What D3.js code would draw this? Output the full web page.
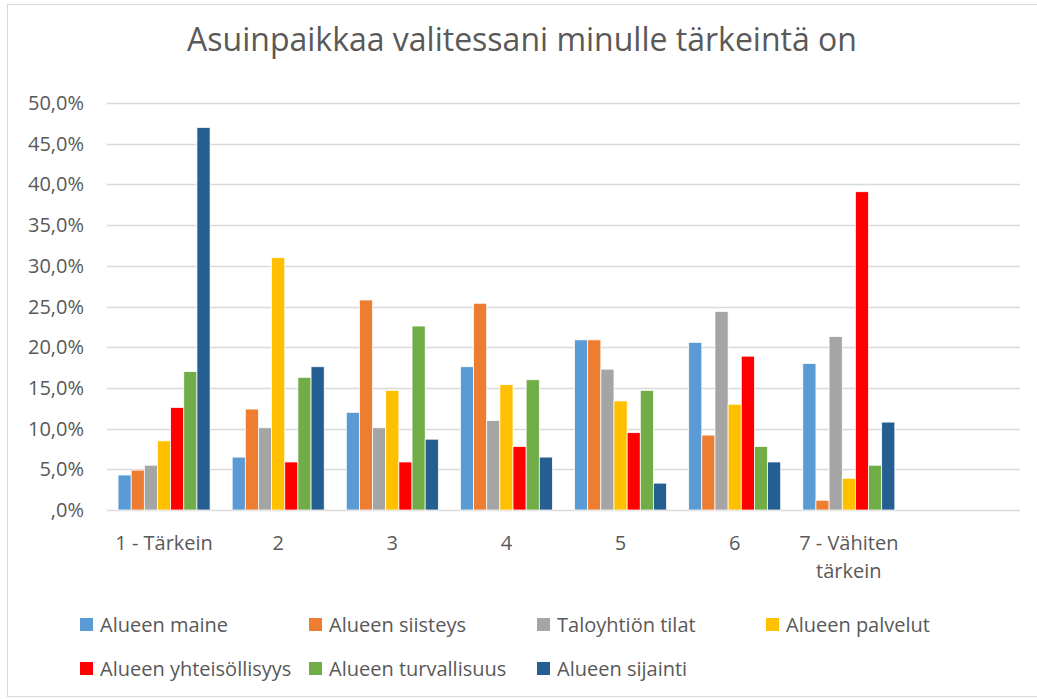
<!DOCTYPE html>
<html>
<head>
<meta charset="utf-8">
<script src="https://cdn.jsdelivr.net/npm/d3@7"></script>
<style>
  body { margin: 0; background: #fff; }
  svg { display: block; font-family: "Open Sans", sans-serif; }
</style>
</head>
<body>
<svg></svg>
<script>
const width = 1037;
const height = 699;

// data (percent)
const categories = ["1 - Tärkein", "2", "3", "4", "5", "6", "7 - Vähiten tärkein", ""];
const seriesNames = ["Alueen maine", "Alueen siisteys", "Taloyhtiön tilat", "Alueen palvelut",
    "Alueen yhteisöllisyys", "Alueen turvallisuus", "Alueen sijainti"];
const maine = [4.3, 6.5, 12.0, 17.6, 20.9, 20.6, 18.0];
const siisteys = [4.9, 12.4, 25.8, 25.4, 20.9, 9.2, 1.2];
const tilat = [5.5, 10.1, 10.1, 11.0, 17.3, 24.4, 21.3];
const palvelut = [8.5, 31.0, 14.7, 15.4, 13.4, 13.0, 3.9];
const yhteisollisyys = [12.6, 5.9, 5.9, 7.8, 9.5, 18.9, 39.1];
const turvallisuus = [17.0, 16.3, 22.6, 16.0, 14.7, 7.8, 5.5];
const sijainti = [47.0, 17.6, 8.7, 6.5, 3.3, 5.9, 10.8];
const yTicks = [0, 5, 10, 15, 20, 25, 30, 35, 40, 45, 50];

const colors = ["#5B9BD5", "#ED7D31", "#A5A5A5", "#FFC000", "#FF0000", "#70AD47", "#255E91"];
const seriesValues = [maine, siisteys, tilat, palvelut, yhteisollisyys, turvallisuus, sijainti];

const series = seriesNames.map((name, i) => ({ name: name, color: colors[i], values: seriesValues[i] }));

const svg = d3.select("svg")
    .attr("width", width)
    .attr("height", height);

// chart border
svg.append("rect")
    .attr("x", 7.5)
    .attr("y", 4.5)
    .attr("width", 1040)
    .attr("height", 692)
    .attr("fill", "none")
    .attr("stroke", "#d9d9d9");

svg.append("text")
    .attr("x", 522)
    .attr("y", 51)
    .attr("text-anchor", "middle")
    .attr("fill", "#595959")
    .style("font-size", "32px")
    .text("Asuinpaikkaa valitessani minulle tärkeintä on");

const x0 = d3.scaleBand()
    .domain(categories)
    .range([107, 1020])
    .paddingInner(0)
    .paddingOuter(0);

const x1 = d3.scaleBand()
    .domain(seriesNames)
    .range([0, x0.bandwidth()])
    .paddingInner(0)
    .paddingOuter(0.84);

const y = d3.scaleLinear()
    .domain([0, 50])
    .range([510, 103]);

// gridlines
svg.append("g")
    .selectAll("line")
    .data(yTicks)
    .enter().append("line")
    .attr("x1", 107)
    .attr("x2", 1020)
    .attr("y1", d => Math.round(y(d)) + 0.5)
    .attr("y2", d => Math.round(y(d)) + 0.5)
    .attr("stroke", "#d9d9d9")
    .attr("stroke-width", 1.5);

// y axis labels
svg.append("g")
    .selectAll("text")
    .data(yTicks)
    .enter().append("text")
    .attr("x", 84)
    .attr("y", d => y(d))
    .attr("dy", "0.35em")
    .attr("text-anchor", "end")
    .attr("fill", "#595959")
    .style("font-size", "20px")
    .text(d => d === 0 ? ",0%" : d3.format(".1f")(d).replace(".", ",") + "%");

// bars
const groups = svg.append("g")
    .selectAll("g")
    .data(series)
    .enter().append("g")
    .attr("fill", d => d.color);

groups.selectAll("rect")
    .data(d => d.values.map((v, i) => ({ name: d.name, cat: categories[i], value: v })))
    .enter().append("rect")
    .attr("x", d => x0(d.cat) + x1(d.name))
    .attr("y", d => y(d.value))
    .attr("width", x1.bandwidth())
    .attr("height", d => y(0) - y(d.value))
    .attr("stroke", "#fff")
    .attr("stroke-width", 0.75);

// category labels
const catLabels = svg.append("g")
    .selectAll("text")
    .data(categories.filter(c => c !== ""))
    .enter().append("text")
    .attr("x", d => x0(d) + x0.bandwidth() / 2)
    .attr("y", 550)
    .attr("text-anchor", "middle")
    .attr("fill", "#595959")
    .style("font-size", "20px");

catLabels.each(function(d) {
    const parts = d === "7 - Vähiten tärkein" ? ["7 - Vähiten", "tärkein"] : [d];
    const t = d3.select(this);
    parts.forEach((p, i) => {
        t.append("tspan")
            .attr("x", x0(d) + x0.bandwidth() / 2)
            .attr("dy", i === 0 ? 0 : 28)
            .text(p);
    });
});

// legend
const legendCols = [80, 309, 537, 766];
const legend = svg.append("g")
    .selectAll("g")
    .data(series)
    .enter().append("g")
    .attr("transform", (d, i) => `translate(${legendCols[i % 4]},${i < 4 ? 618 : 662})`);

legend.append("rect")
    .attr("width", 13)
    .attr("height", 13)
    .attr("fill", d => d.color);

legend.append("text")
    .attr("x", 20)
    .attr("y", 6.5)
    .attr("dy", "0.35em")
    .attr("fill", "#595959")
    .style("font-size", "20px")
    .text(d => d.name);
</script>
</body>
</html>
